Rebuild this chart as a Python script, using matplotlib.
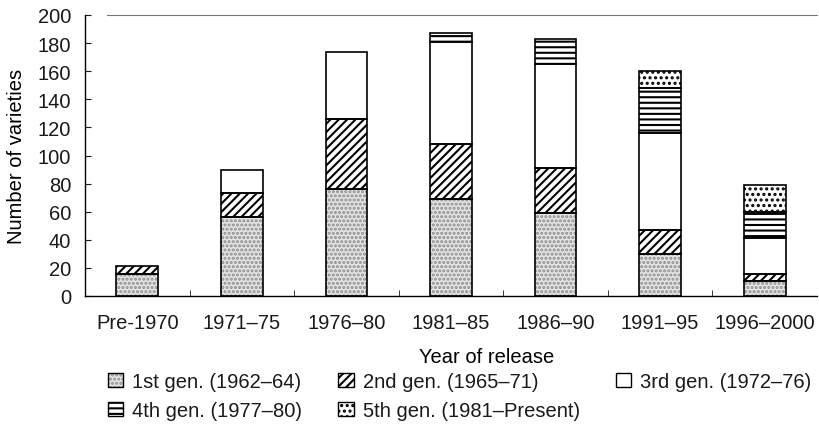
import matplotlib

matplotlib.use("Agg")
import matplotlib.pyplot as plt
from matplotlib.patches import Patch
import numpy as np

categories = ["Pre-1970", "1971–75", "1976–80", "1981–85", "1986–90", "1991–95", "1996–2000"]
gen1 = [16, 56, 76, 69, 59, 30, 11]
gen2 = [5, 17, 50, 39, 32, 17, 5]
gen3 = [0, 17, 48, 73, 74, 69, 25]
gen4 = [0, 0, 0, 6, 18, 32, 19]
gen5 = [0, 0, 0, 0, 0, 12, 19]
series_labels = [
    "1st gen. (1962–64)",
    "2nd gen. (1965–71)",
    "3rd gen. (1972–76)",
    "4th gen. (1977–80)",
    "5th gen. (1981–Present)",
]
yticks = list(range(0, 201, 20))

# (face, hatch, hatch colour) per generation
STYLES = [
    ("#e4e4e4", "....", "#8c8c8c"),
    ("white", "////", "black"),
    ("white", "", "black"),
    ("white", "---", "black"),
    ("white", "...", "black"),
]
TEXT_COLOR = "#1a1a1a"

plt.rcParams.update(
    {
        "font.family": ["Liberation Sans", "DejaVu Sans"],
        "font.size": 14.5,
        "hatch.linewidth": 1.5,
        "text.color": TEXT_COLOR,
        "xtick.color": TEXT_COLOR,
        "ytick.color": TEXT_COLOR,
    }
)

fig = plt.figure(figsize=(8.19, 4.35), dpi=100)
ax = fig.add_axes([85 / 819, 1 - 297 / 435, 732 / 819, 281 / 435])

x = np.arange(len(categories))
width = 0.4
bottom = np.zeros(len(categories))
handles = []
for values, (face, hatch, hcolor), label in zip(
    [gen1, gen2, gen3, gen4, gen5], STYLES, series_labels
):
    values = np.array(values, dtype=float)
    ax.bar(x, values, width, bottom=bottom, color=face, hatch=hatch,
           edgecolor=hcolor, linewidth=0, zorder=2)
    mask = values > 0
    ax.bar(x[mask], values[mask], width, bottom=bottom[mask], fill=False,
           edgecolor="black", linewidth=1.2, zorder=3)
    bottom += values
    handles.append(
        (Patch(facecolor=face, hatch=hatch, edgecolor=hcolor, linewidth=0),
         Patch(fill=False, edgecolor="black", linewidth=1.0))
    )

ax.set_xlim(-0.5, len(categories) - 0.5)
ax.set_ylim(0, 200)
ax.set_yticks(yticks)
ax.set_xticks(x)
ax.set_xticklabels(categories)
ax.set_xticks(x[:-1] + 0.5, minor=True)
ax.tick_params(axis="x", which="major", length=0, pad=12)
ax.tick_params(axis="x", which="minor", direction="in", length=4)
ax.tick_params(axis="y", direction="in", length=4, pad=10)

ax.spines["right"].set_visible(False)
ax.spines["top"].set_color("#777777")
ax.spines["top"].set_linewidth(0.8)
ax.spines["top"].set_bounds(-0.29, len(categories) - 0.5)
ax.spines["left"].set_linewidth(1.0)
ax.spines["bottom"].set_linewidth(1.0)

ax.set_ylabel("Number of varieties", labelpad=8)
ax.set_xlabel("Year of release")
ax.xaxis.set_label_coords(0.549, -0.18)

order = [0, 3, 1, 4, 2]
fig.legend(
    [handles[i] for i in order],
    [series_labels[i] for i in order],
    ncol=3,
    loc="upper left",
    bbox_to_anchor=(100 / 819, 1 - 365 / 435),
    frameon=False,
    handlelength=0.75,
    handleheight=0.75,
    handletextpad=0.45,
    columnspacing=1.8,
    labelspacing=0.5,
    borderaxespad=0,
)

fig.savefig("out.png", dpi=100)
